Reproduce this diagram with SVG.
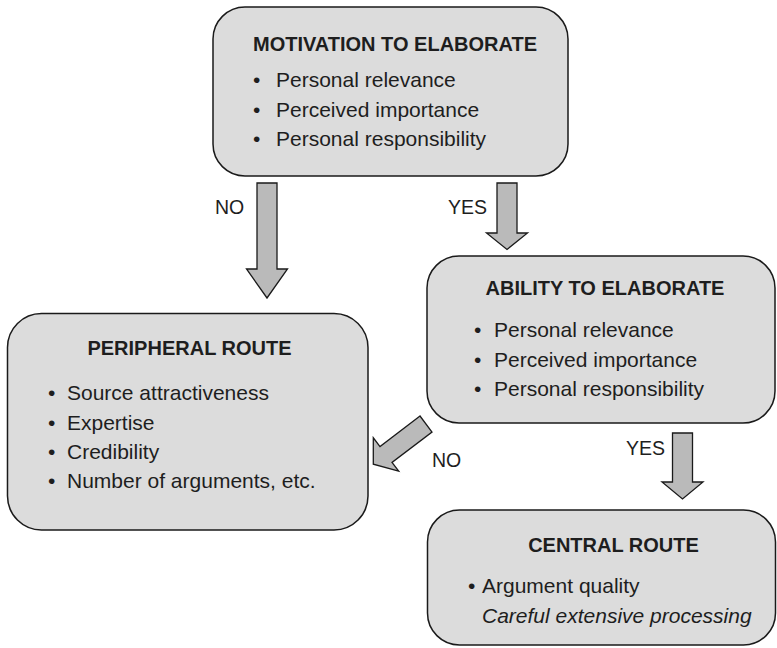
<svg xmlns="http://www.w3.org/2000/svg" width="777" height="648" viewBox="0 0 777 648">
<style>
.box{fill:#dcdcdc;stroke:#1a1a1a;stroke-width:1.5}
.arr{fill:#bababa;stroke:#1a1a1a;stroke-width:1.3;stroke-linejoin:miter}
.t{font-family:"Liberation Sans",Arial,sans-serif;fill:#1e1e1e}
.h{font-size:20px;font-weight:bold;text-anchor:middle}
.b{font-size:21px}
.i{font-size:21px;font-style:italic}
.l{font-size:19.5px}
</style>
<rect x="0" y="0" width="777" height="648" fill="#ffffff"/>
<g id="connectors">
<polygon class="arr" points="257,183 277,183 277,269 287.5,269 267,298 246.5,269 257,269"/>
<polygon class="arr" points="497,183 517,183 517,233 527.5,233 507,249.5 486.5,233 497,233"/>
<polygon class="arr" points="672.5,433 692.5,433 692.5,482 703,482 682.5,499 662,482 672.5,482"/>
<polygon class="arr" points="420,416 380,446.6 373.3,437.8 373.3,464.2 398.7,471.2 392,462.4 432,432"/>
<text class="t l" x="215" y="214">NO</text>
<text class="t l" x="448" y="214">YES</text>
<text class="t l" x="626" y="455">YES</text>
<text class="t l" x="432" y="467">NO</text>
</g>
<g id="motivation">
<rect class="box" x="213" y="7" width="355" height="169" rx="32" ry="32"/>
<text class="t h" x="395" y="51">MOTIVATION TO ELABORATE</text>
<text class="t b" y="87"><tspan x="253">•</tspan><tspan x="276">Personal relevance</tspan></text>
<text class="t b" y="117"><tspan x="253">•</tspan><tspan x="276">Perceived importance</tspan></text>
<text class="t b" y="146"><tspan x="253">•</tspan><tspan x="276">Personal responsibility</tspan></text>
</g>
<g id="ability">
<rect class="box" x="427" y="256" width="348" height="167" rx="32" ry="32"/>
<text class="t h" x="605" y="295">ABILITY TO ELABORATE</text>
<text class="t b" y="337"><tspan x="474">•</tspan><tspan x="494">Personal relevance</tspan></text>
<text class="t b" y="366.5"><tspan x="474">•</tspan><tspan x="494">Perceived importance</tspan></text>
<text class="t b" y="396"><tspan x="474">•</tspan><tspan x="494">Personal responsibility</tspan></text>
</g>
<g id="peripheral">
<rect class="box" x="7.5" y="313.5" width="360.5" height="216.5" rx="34" ry="34"/>
<text class="t h" x="189.5" y="355">PERIPHERAL ROUTE</text>
<text class="t b" y="400"><tspan x="48">•</tspan><tspan x="67">Source attractiveness</tspan></text>
<text class="t b" y="429.5"><tspan x="48">•</tspan><tspan x="67">Expertise</tspan></text>
<text class="t b" y="459"><tspan x="48">•</tspan><tspan x="67">Credibility</tspan></text>
<text class="t b" y="488"><tspan x="48">•</tspan><tspan x="67">Number of arguments, etc.</tspan></text>
</g>
<g id="central">
<rect class="box" x="427.5" y="510" width="348" height="135" rx="32" ry="32"/>
<text class="t h" x="613.5" y="552">CENTRAL ROUTE</text>
<text class="t b" y="593"><tspan x="468">•</tspan><tspan x="482">Argument quality</tspan></text>
<text class="t i" x="482" y="622.5">Careful extensive processing</text>
</g>
</svg>
